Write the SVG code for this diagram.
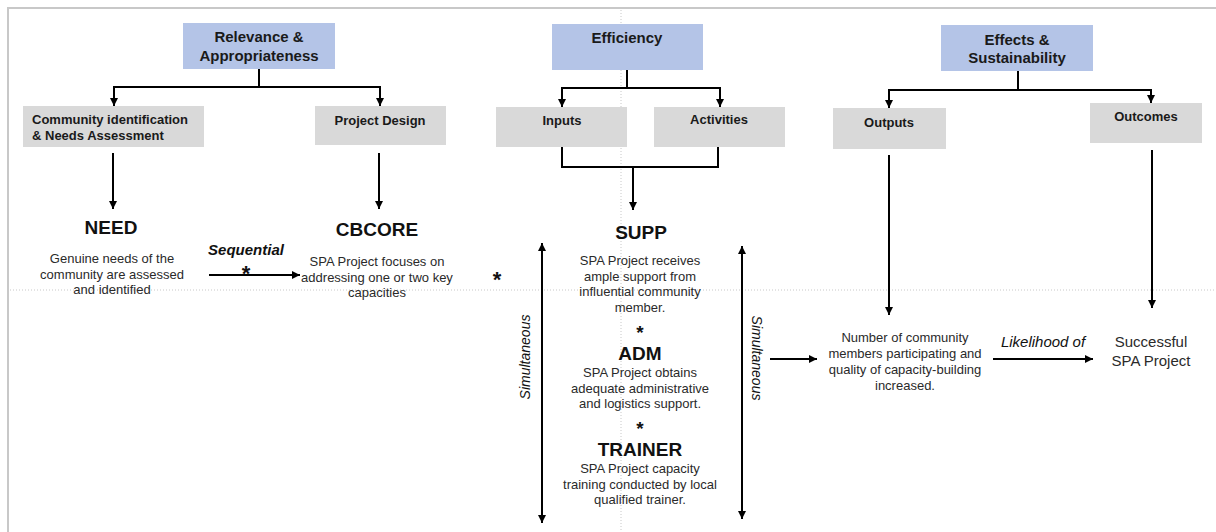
<svg xmlns="http://www.w3.org/2000/svg" width="1216" height="532" viewBox="0 0 1216 532">
<style>
.hdr{fill:#b4c4e7}
.sub{fill:#d9d9d9}
.ht{font-family:"Liberation Sans",Arial,sans-serif;font-size:15px;font-weight:bold;fill:#1a1a1a;text-anchor:middle}
.st{font-family:"Liberation Sans",Arial,sans-serif;font-size:13px;font-weight:bold;fill:#1a1a1a;text-anchor:middle}
.big{font-family:"Liberation Sans",Arial,sans-serif;font-size:19px;font-weight:bold;fill:#111;text-anchor:middle}
.body{font-family:"Liberation Sans",Arial,sans-serif;font-size:13px;fill:#2a2a2a;text-anchor:middle}
.star{font-family:"Liberation Sans",Arial,sans-serif;font-size:22px;font-weight:bold;fill:#111;text-anchor:middle}
.it{font-family:"Liberation Sans",Arial,sans-serif;font-size:14px;font-style:italic;fill:#111;text-anchor:middle}
.c{fill:none;stroke:#000;stroke-width:2}
.guide{fill:none;stroke:#c8c8c8;stroke-width:1;stroke-dasharray:1 2}
</style>
<defs>
<marker id="ah" markerUnits="userSpaceOnUse" markerWidth="8" markerHeight="8" refX="8" refY="4" orient="auto-start-reverse">
<path d="M0,0 L8,4 L0,8 z" fill="#000"/>
</marker>
</defs>
<rect width="1216" height="532" fill="#fff"/>
<path d="M8,532 V8 H1216" fill="none" stroke="#c8c8c8" stroke-width="2"/>
<path class="guide" d="M621,10 V532 M10,290 H1216"/>

<g id="relevance">
<rect class="hdr" x="183" y="23" width="152" height="46"/>
<text class="ht" x="259" y="42">Relevance &amp;</text>
<text class="ht" x="259" y="61">Appropriateness</text>
</g>
<g id="community">
<rect class="sub" x="23" y="106" width="181" height="41"/>
<text class="st" x="32" y="124" style="text-anchor:start">Community identification</text>
<text class="st" x="32" y="140" style="text-anchor:start">&amp; Needs Assessment</text>
</g>
<g id="projectdesign">
<rect class="sub" x="315" y="106" width="131" height="39"/>
<text class="st" x="380" y="125">Project Design</text>
</g>
<g id="need">
<text class="big" x="111" y="234">NEED</text>
<text class="body" x="112" y="263">Genuine needs of the</text>
<text class="body" x="112" y="279">community are assessed</text>
<text class="body" x="112" y="294">and identified</text>
</g>
<g id="cbcore">
<text class="big" x="377" y="236">CBCORE</text>
<text class="body" x="377" y="266">SPA Project focuses on</text>
<text class="body" x="377" y="282">addressing one or two key</text>
<text class="body" x="377" y="297">capacities</text>
</g>
<text class="star" x="497" y="287">*</text>

<g id="efficiency">
<rect class="hdr" x="552" y="24" width="151" height="46"/>
<text class="ht" x="627" y="43">Efficiency</text>
</g>
<g id="inputs">
<rect class="sub" x="496" y="107" width="131" height="40"/>
<text class="st" x="562" y="125">Inputs</text>
</g>
<g id="activities">
<rect class="sub" x="654" y="107" width="131" height="40"/>
<text class="st" x="719" y="124">Activities</text>
</g>
<g id="supp">
<text class="big" x="641" y="239">SUPP</text>
<text class="body" x="640" y="265">SPA Project receives</text>
<text class="body" x="640" y="280.5">ample support from</text>
<text class="body" x="640" y="296">influential community</text>
<text class="body" x="640" y="311.5">member.</text>
</g>
<text class="star" x="640" y="339" style="font-size:19px">*</text>
<g id="adm">
<text class="big" x="640" y="360">ADM</text>
<text class="body" x="640" y="377">SPA Project obtains</text>
<text class="body" x="640" y="392.5">adequate administrative</text>
<text class="body" x="640" y="408">and logistics support.</text>
</g>
<text class="star" x="640" y="434.5" style="font-size:19px">*</text>
<g id="trainer">
<text class="big" x="640" y="456">TRAINER</text>
<text class="body" x="640" y="473">SPA Project capacity</text>
<text class="body" x="640" y="488.5">training conducted by local</text>
<text class="body" x="640" y="504">qualified trainer.</text>
</g>

<g id="effects">
<rect class="hdr" x="941" y="25" width="152" height="46"/>
<text class="ht" x="1017" y="45">Effects &amp;</text>
<text class="ht" x="1017" y="63">Sustainability</text>
</g>
<g id="outputs">
<rect class="sub" x="833" y="108" width="113" height="41"/>
<text class="st" x="889" y="127">Outputs</text>
</g>
<g id="outcomes">
<rect class="sub" x="1090" y="103" width="112" height="40"/>
<text class="st" x="1146" y="121">Outcomes</text>
</g>
<g id="outputresult">
<text class="body" x="905" y="342">Number of community</text>
<text class="body" x="905" y="358">members participating and</text>
<text class="body" x="905" y="374">quality of capacity-building</text>
<text class="body" x="905" y="390">increased.</text>
</g>
<g id="success">
<text class="body" x="1151" y="347" style="font-size:15px">Successful</text>
<text class="body" x="1151" y="366" style="font-size:15px">SPA Project</text>
</g>

<g id="connectors">
<path class="c" d="M259,69 V87 H114 V106" marker-end="url(#ah)"/>
<path class="c" d="M259,87 H380 V106" marker-end="url(#ah)"/>
<path class="c" d="M113,153 V209" marker-end="url(#ah)"/>
<path class="c" d="M379,153 V209" marker-end="url(#ah)"/>
<path class="c" d="M209,275 H300" marker-end="url(#ah)"/>
<text class="it" x="246" y="255" style="font-weight:bold;font-size:15px">Sequential</text>
<text class="star" x="246" y="281">*</text>

<path class="c" d="M627,70 V88 H562 V107" marker-end="url(#ah)"/>
<path class="c" d="M627,88 H720 V107" marker-end="url(#ah)"/>
<path class="c" d="M562,147 V167 H718 V147"/>
<path class="c" d="M633,167 V210" marker-end="url(#ah)"/>

<path class="c" d="M542,243 V523" marker-start="url(#ah)" marker-end="url(#ah)"/>
<text class="it" transform="translate(530,357) rotate(-90)" x="0" y="0">Simultaneous</text>
<path class="c" d="M742,246 V519" marker-start="url(#ah)" marker-end="url(#ah)"/>
<text class="it" transform="translate(752,358) rotate(90)" x="0" y="0">Simultaneous</text>
<path class="c" d="M770,359 H817" marker-end="url(#ah)"/>

<path class="c" d="M1018,71 V90 H889 V108" marker-end="url(#ah)"/>
<path class="c" d="M1018,90 H1151 V103" marker-end="url(#ah)"/>
<path class="c" d="M889,155 V315" marker-end="url(#ah)"/>
<path class="c" d="M1152,150 V308" marker-end="url(#ah)"/>
<path class="c" d="M993,359 H1093" marker-end="url(#ah)"/>
<text class="it" x="1043" y="347" style="font-size:15px">Likelihood of</text>
</g>
</svg>
